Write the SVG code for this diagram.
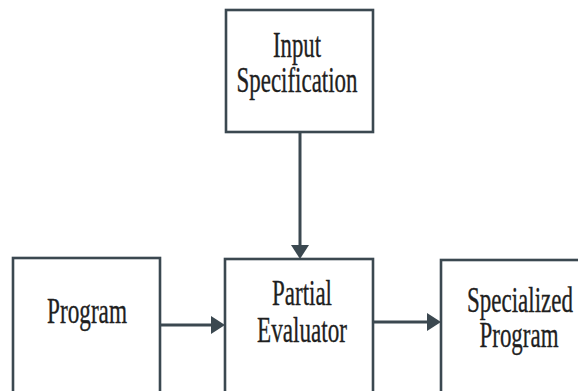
<svg xmlns="http://www.w3.org/2000/svg" width="578" height="391" viewBox="0 0 578 391">
<style>
.box{fill:#ffffff;stroke:#3b4850;stroke-width:2.6}
.lbl{font-family:"Liberation Serif","Times New Roman",serif;font-size:35px;fill:#1f1f1f;stroke:#1f1f1f;stroke-width:0.35;text-anchor:middle}
.edge{stroke:#3b4850;stroke-width:3;fill:none}
.head{fill:#3b4850}
</style>
<rect width="578" height="391" fill="#ffffff"/>
<g id="input-spec">
<rect class="box" x="226" y="10" width="147" height="122"/>
<text class="lbl" x="297" y="57" textLength="48" lengthAdjust="spacingAndGlyphs">Input</text>
<text class="lbl" x="297" y="92" textLength="121" lengthAdjust="spacingAndGlyphs">Specification</text>
</g>
<g id="program">
<rect class="box" x="13" y="258" width="147" height="150"/>
<text class="lbl" x="87" y="323" textLength="80" lengthAdjust="spacingAndGlyphs">Program</text>
</g>
<g id="partial-evaluator">
<rect class="box" x="225" y="259" width="148" height="150"/>
<text class="lbl" x="302" y="305" textLength="60" lengthAdjust="spacingAndGlyphs">Partial</text>
<text class="lbl" x="302" y="342" textLength="90" lengthAdjust="spacingAndGlyphs">Evaluator</text>
</g>
<g id="specialized-program">
<rect class="box" x="441" y="260" width="140" height="150"/>
<text class="lbl" x="520" y="312" textLength="106" lengthAdjust="spacingAndGlyphs">Specialized</text>
<text class="lbl" x="519" y="347" textLength="79" lengthAdjust="spacingAndGlyphs">Program</text>
</g>
<g id="connectors">
<line class="edge" x1="300" y1="133" x2="300" y2="248"/>
<polygon class="head" points="300,259 291,245 309,245"/>
<line class="edge" x1="161" y1="325" x2="214" y2="325"/>
<polygon class="head" points="225,325 211,316 211,334"/>
<line class="edge" x1="374" y1="322" x2="430" y2="322"/>
<polygon class="head" points="441,322 427,313 427,331"/>
</g>
</svg>
